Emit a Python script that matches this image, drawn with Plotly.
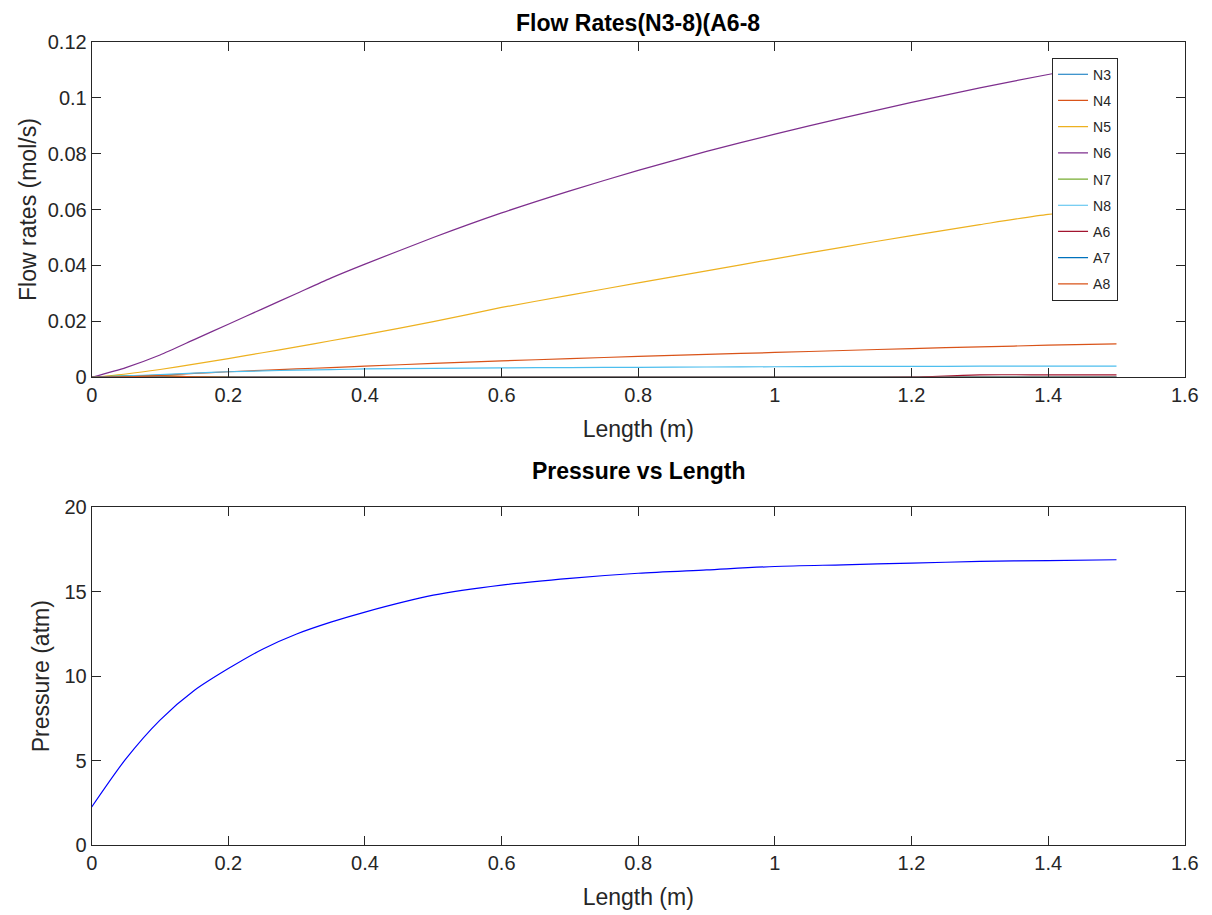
import plotly.graph_objects as go

length_m = [0, 0.05, 0.1, 0.15, 0.2, 0.25, 0.3, 0.35, 0.4, 0.5, 0.6, 0.7, 0.8, 0.9, 1.0, 1.1, 1.2, 1.3, 1.4, 1.5]

N3 = [0, 0.0001, 0.0001, 0.0001, 0.0001, 0.0001, 0.0001, 0.0001, 0.0001, 0.0001, 0.0001, 0.0001, 0.0001, 0.0001, 0.0001, 0.0001, 0.0001, 0.0001, 0.0001, 0.0001]
N4 = [0, 0.0003, 0.0008, 0.0014, 0.002, 0.0025, 0.003, 0.0035, 0.004, 0.005, 0.0059, 0.0067, 0.0075, 0.0082, 0.0089, 0.0096, 0.0103, 0.0109, 0.0115, 0.012]
N5 = [0, 0.0012, 0.0028, 0.0047, 0.0067, 0.0088, 0.0109, 0.0131, 0.0153, 0.0199, 0.0250, 0.0294, 0.0338, 0.0381, 0.0424, 0.0466, 0.0507, 0.0546, 0.0583, 0.0603]
N6 = [0, 0.0035, 0.008, 0.0135, 0.019, 0.0245, 0.030, 0.0355, 0.0405, 0.050, 0.0588, 0.0667, 0.074, 0.0808, 0.087, 0.0928, 0.0983, 0.1035, 0.1083, 0.1125]
N7 = [0, 0.0006, 0.0005, 0.0002, 0.0001, 0, 0, 0, 0, 0, 0, 0, 0, 0, 0, 0, 0, 0, 0, 0]
N8 = [0, 0.0005, 0.001, 0.0015, 0.002, 0.0023, 0.0026, 0.0028, 0.003, 0.0032, 0.0034, 0.0035, 0.0036, 0.0037, 0.0038, 0.0039, 0.0039, 0.004, 0.004, 0.004]
A6 = [0, 0, 0, 0, 0, 0, 0, 0, 0, 0, 0, 0, 0, 0, 0, 0, 0.0001, 0.0009, 0.0009, 0.0009]
A7 = [0, 0, 0, 0, 0, 0, 0, 0, 0, 0, 0, 0, 0, 0, 0, 0, 0, 0, 0, 0]
A8 = [0, 0.0002, 0.0006, 0.0002, 0, 0, 0, 0, 0, 0, 0, 0, 0, 0, 0, 0, 0, 0, 0, 0]

pressure_atm = [2.25, 5.1, 7.4, 9.15, 10.45, 11.6, 12.5, 13.2, 13.8, 14.8, 15.4, 15.8, 16.1, 16.3, 16.5, 16.6, 16.7, 16.8, 16.85, 16.9]

series_names = ["N3", "N4", "N5", "N6", "N7", "N8", "A6", "A7", "A8"]
series_values = [N3, N4, N5, N6, N7, N8, A6, A7, A8]
series_colors = ["#0072BD", "#D95319", "#EDB120", "#7E2F8E", "#77AC30", "#4DBEEE", "#A2142F", "#0072BD", "#D95319"]

x_ticks = [0, 0.2, 0.4, 0.6, 0.8, 1.0, 1.2, 1.4, 1.6]
x_tick_text = ["0", "0.2", "0.4", "0.6", "0.8", "1", "1.2", "1.4", "1.6"]
y1_ticks = [0, 0.02, 0.04, 0.06, 0.08, 0.1, 0.12]
y1_tick_text = ["0", "0.02", "0.04", "0.06", "0.08", "0.1", "0.12"]
y2_ticks = [0, 5, 10, 15, 20]

W, H = 1212, 915


# the photographed page (with its 8px body margin) is shrunk to the window;
# map target pixels to figure pixels
def px_x(p):
    return ((p - 6) / 0.987) / W


def px_y(p):
    return 1 - ((p - 6) / 0.983) / H


fig = go.Figure()

for name, vals, col in zip(series_names, series_values, series_colors):
    fig.add_trace(go.Scatter(x=length_m, y=vals, mode="lines", name=name,
                             line=dict(color=col, width=1.2, shape="spline", smoothing=0.6),
                             legendgroup=name, xaxis="x", yaxis="y"))

fig.add_trace(go.Scatter(x=length_m, y=pressure_atm, mode="lines", name="Pressure",
                         line=dict(color="#0000FF", width=1.2, shape="spline", smoothing=0.8),
                         showlegend=False, xaxis="x2", yaxis="y2"))

font = dict(family="Liberation Sans, Arial, sans-serif", size=14, color="#262626")
axcommon = dict(showline=True, linecolor="#262626", linewidth=1, mirror="ticks",
                ticks="inside", ticklen=9, tickcolor="#262626", showgrid=False,
                zeroline=False, ticklabeloverflow="allow",
                tickfont=dict(size=20, color="#262626"))

xdom = [px_x(92), px_x(1189)]
xcenter = (xdom[0] + xdom[1]) / 2
fig.update_layout(
    width=W, height=H,
    margin=dict(l=0, r=0, t=0, b=0),
    paper_bgcolor="white", plot_bgcolor="white",
    font=font,
    xaxis=dict(domain=xdom, anchor="y", range=[0, 1.6], tickvals=x_ticks, ticktext=x_tick_text,
               title=dict(text="Length (m)", standoff=15, font=dict(size=23, color="#262626")), **axcommon),
    yaxis=dict(domain=[px_y(375), px_y(37)], anchor="x", range=[0, 0.12], tickvals=y1_ticks,
               ticktext=y1_tick_text,
               title=dict(text="Flow rates (mol/s)", standoff=4, font=dict(size=23, color="#262626")), **axcommon),
    xaxis2=dict(domain=xdom, anchor="y2", range=[0, 1.6], tickvals=x_ticks, ticktext=x_tick_text,
                title=dict(text="Length (m)", standoff=15, font=dict(size=23, color="#262626")), **axcommon),
    yaxis2=dict(domain=[px_y(846), px_y(506)], anchor="x2", range=[0, 20], tickvals=y2_ticks,
                title=dict(text="Pressure (atm)", standoff=8, font=dict(size=23, color="#262626")), **axcommon),
    legend=dict(x=px_x(1122), y=px_y(53), xanchor="right", yanchor="top",
                bordercolor="#262626", borderwidth=1, bgcolor="white",
                font=dict(size=14, color="#262626"), tracegroupgap=5, itemwidth=30),
    annotations=[
        dict(text="<b>Flow Rates(N3-8)(A6-8</b>", x=xcenter, y=px_y(18), yanchor="middle",
             xref="paper", yref="paper", showarrow=False, font=dict(size=23, color="#000000")),
        dict(text="<b>Pressure vs Length</b>", x=xcenter, y=px_y(469), yanchor="middle",
             xref="paper", yref="paper", showarrow=False, font=dict(size=23, color="#000000")),
    ],
)

fig.write_html("out.html")
